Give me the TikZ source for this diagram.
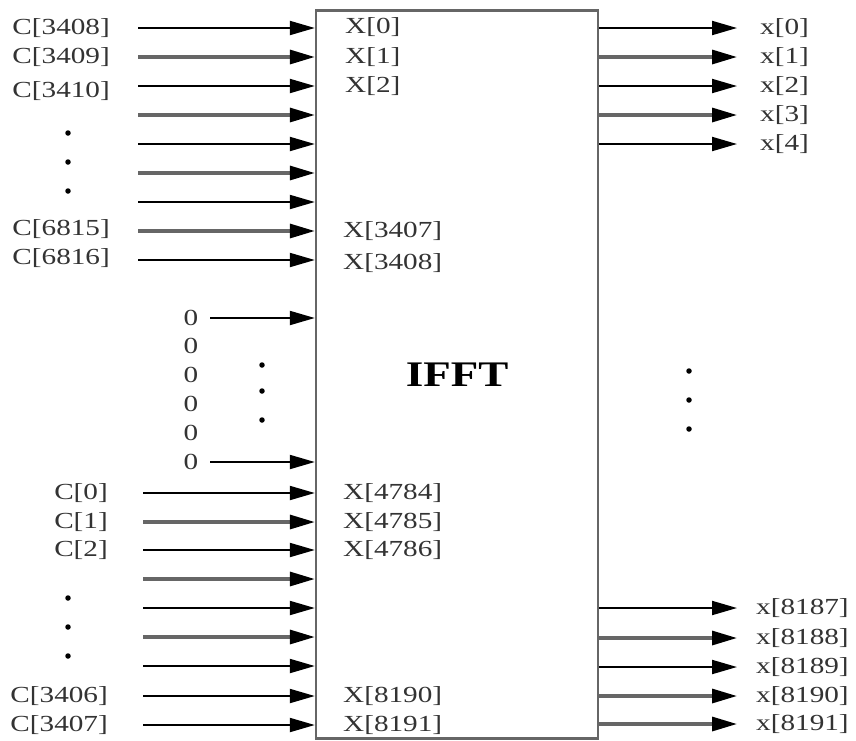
\documentclass[tikz,border=0pt]{standalone}
\usepackage{fontspec}
\setmainfont{Liberation Serif}
\usepackage{graphicx}
\usetikzlibrary{arrows.meta}
\newcommand\lbl[1]{\scalebox{1.27}[1]{#1}}
\begin{document}
\begin{tikzpicture}[x=1pt,y=1pt,
  lab/.style={font=\fontsize{23}{25}\selectfont, text=black!80, inner sep=0pt},
  blk/.style={draw=black, line width=2pt, -{Triangle[length=25pt,width=14pt,color=black]}},
  gry/.style={draw=black!60, line width=3.2pt, -{Triangle[length=25pt,width=14pt,color=black]}},
  dotn/.style={circle, fill=black, inner sep=0pt, minimum size=5.5pt}]
\useasboundingbox (0,0) rectangle (856,-740);
\node[draw=black!60, line width=2.4pt, minimum width=282pt, minimum height=728pt, inner sep=0pt,
      font=\bfseries\fontsize{36}{40}\selectfont] (box) at (457,-374.5) {\scalebox{1.25}[1]{IFFT}};

% upper inputs
\foreach \y/\s/\i in {28/blk/1,57/gry/2,86/blk/3,115/gry/4,144/blk/5,173/gry/6,202/blk/7,231/gry/8,260/blk/9}{
  \coordinate (u\i) at (138,-\y);
  \draw[\s] (u\i) -- (u\i -| box.west);
}
\node[lab, anchor=east] (cu1) at (110,-28) {\lbl{C[3408]}};
\node[lab, anchor=east] (cu2) at (110,-57) {\lbl{C[3409]}};
\node[lab, anchor=east] (cu3) at (110,-91) {\lbl{C[3410]}};
\node[lab, anchor=east] (cu8) at (110,-229) {\lbl{C[6815]}};
\node[lab, anchor=east] (cu9) at (110,-258) {\lbl{C[6816]}};
\node[dotn] (du1) at (68,-133) {};
\node[dotn] (du2) at (68,-162) {};
\node[dotn] (du3) at (68,-191) {};

\node[lab, anchor=west] (xu1) at (345,-27) {\lbl{X[0]}};
\node[lab, anchor=west] (xu2) at (345,-57) {\lbl{X[1]}};
\node[lab, anchor=west] (xu3) at (345,-86) {\lbl{X[2]}};
\node[lab, anchor=west] (xu8) at (343,-231) {\lbl{X[3407]}};
\node[lab, anchor=west] (xu9) at (343,-263) {\lbl{X[3408]}};

% zero inputs
\coordinate (z1) at (210,-318);
\coordinate (z6) at (210,-462);
\draw[blk] (z1) -- (z1 -| box.west);
\draw[blk] (z6) -- (z6 -| box.west);
\foreach \y/\i in {318/1,346/2,375/3,404/4,433/5,462/6}{
  \node[lab] (zl\i) at (191,-\y) {\lbl{0}};
}
\node[dotn] (dz1) at (262,-365) {};
\node[dotn] (dz2) at (262,-391) {};
\node[dotn] (dz3) at (262,-420) {};

% lower inputs
\foreach \y/\s/\i in {493/blk/1,522/gry/2,550/blk/3,579/gry/4,608/blk/5,637/gry/6,666/blk/7,696/blk/8,725/blk/9}{
  \coordinate (l\i) at (143,-\y);
  \draw[\s] (l\i) -- (l\i -| box.west);
}
\node[lab, anchor=east] (cl1) at (108,-493) {\lbl{C[0]}};
\node[lab, anchor=east] (cl2) at (108,-522) {\lbl{C[1]}};
\node[lab, anchor=east] (cl3) at (108,-550) {\lbl{C[2]}};
\node[lab, anchor=east] (cl8) at (108,-696) {\lbl{C[3406]}};
\node[lab, anchor=east] (cl9) at (108,-725) {\lbl{C[3407]}};
\node[dotn] (dl1) at (68,-598) {};
\node[dotn] (dl2) at (68,-627) {};
\node[dotn] (dl3) at (68,-656) {};

\node[lab, anchor=west] (xl1) at (343,-493) {\lbl{X[4784]}};
\node[lab, anchor=west] (xl2) at (343,-522) {\lbl{X[4785]}};
\node[lab, anchor=west] (xl3) at (343,-550) {\lbl{X[4786]}};
\node[lab, anchor=west] (xl8) at (343,-696) {\lbl{X[8190]}};
\node[lab, anchor=west] (xl9) at (343,-725) {\lbl{X[8191]}};

% upper outputs
\foreach \y/\s/\i/\t in {28/blk/1/0,57/gry/2/1,86/blk/3/2,115/gry/4/3,144/blk/5/4}{
  \coordinate (o\i) at (737,-\y);
  \draw[\s] (o\i -| box.east) -- (o\i);
  \node[lab, anchor=west] (ol\i) at (760,-\y) {\lbl{x[\t]}};
}
\node[dotn] (dr1) at (689,-371) {};
\node[dotn] (dr2) at (689,-400) {};
\node[dotn] (dr3) at (689,-429) {};

% lower outputs
\foreach \y/\s/\i/\t in {608/blk/1/8187,638/gry/2/8188,667/blk/3/8189,696/gry/4/8190,724/gry/5/8191}{
  \coordinate (p\i) at (737,-\y);
  \draw[\s] (p\i -| box.east) -- (p\i);
  \node[lab, anchor=west] (pl\i) at (756,-\y) {\lbl{x[\t]}};
}
\end{tikzpicture}
\end{document}
